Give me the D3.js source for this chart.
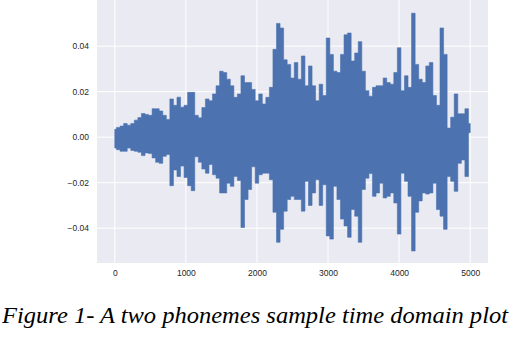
<!DOCTYPE html>
<html>
<head>
<meta charset="utf-8">
<script src="https://cdn.jsdelivr.net/npm/d3@7"></script>
<style>
  html, body { margin: 0; padding: 0; background: #ffffff; }
  svg { display: block; }
</style>
</head>
<body>
<svg id="chart" width="518" height="364"></svg>
<script>
// Sample index of each envelope reading (every 50 samples)
const sampleStep = 50;
// Positive peaks (upper envelope)
const upperPeaks = [
  0.0035, 0.0043, 0.0049, 0.0060, 0.0053, 0.0060, 0.0075, 0.0086, 0.0104, 0.0100,
  0.0096, 0.0125, 0.0125, 0.0115, 0.0096, 0.0078, 0.0168, 0.0140, 0.0176, 0.0132,
  0.0140, 0.0197, 0.0197, 0.0096, 0.0085, 0.0130, 0.0168, 0.0160, 0.0190, 0.0226,
  0.0290, 0.0284, 0.0255, 0.0226, 0.0175, 0.0190, 0.0270, 0.0240, 0.0240, 0.0210,
  0.0160, 0.0190, 0.0146, 0.0175, 0.0219, 0.0386, 0.0500, 0.0480, 0.0340, 0.0320,
  0.0260, 0.0328, 0.0255, 0.0357, 0.0226, 0.0313, 0.0226, 0.0160, 0.0233, 0.0183,
  0.0436, 0.0364, 0.0290, 0.0284, 0.0364, 0.0450, 0.0458, 0.0335, 0.0370, 0.0420,
  0.0290, 0.0204, 0.0180, 0.0219, 0.0226, 0.0226, 0.0260, 0.0240, 0.0233, 0.0284,
  0.0393, 0.0204, 0.0270, 0.0219, 0.0545, 0.0320, 0.0255, 0.0240, 0.0313, 0.0328,
  0.0183, 0.0140, 0.0480, 0.0364, 0.0040, 0.0088, 0.0190, 0.0103, 0.0103, 0.0125,
  0.0060
];
// Negative troughs (lower envelope)
const lowerPeaks = [
  -0.0048, -0.0055, -0.0062, -0.0062, -0.0048, -0.0058, -0.0062, -0.0066, -0.0081, -0.0069,
  -0.0072, -0.0091, -0.0110, -0.0115, -0.0084, -0.0076, -0.0213, -0.0144, -0.0173, -0.0127,
  -0.0177, -0.0213, -0.0235, -0.0086, -0.0110, -0.0140, -0.0158, -0.0120, -0.0165, -0.0180,
  -0.0245, -0.0245, -0.0202, -0.0216, -0.0173, -0.0190, -0.0397, -0.0274, -0.0230, -0.0130,
  -0.0202, -0.0165, -0.0158, -0.0158, -0.0187, -0.0330, -0.0462, -0.0405, -0.0325, -0.0274,
  -0.0260, -0.0274, -0.0274, -0.0325, -0.0194, -0.0300, -0.0245, -0.0187, -0.0300, -0.0209,
  -0.0434, -0.0448, -0.0216, -0.0274, -0.0360, -0.0390, -0.0440, -0.0318, -0.0347, -0.0462,
  -0.0230, -0.0180, -0.0160, -0.0260, -0.0245, -0.0202, -0.0267, -0.0260, -0.0245, -0.0289,
  -0.0426, -0.0158, -0.0194, -0.0260, -0.0500, -0.0330, -0.0280, -0.0245, -0.0250, -0.0245,
  -0.0202, -0.0318, -0.0347, -0.0405, -0.0173, -0.0194, -0.0238, -0.0115, -0.0100, -0.0173,
  0.0020
];
const xTicks = [0, 1000, 2000, 3000, 4000, 5000];
const yTicks = [-0.04, -0.02, 0.00, 0.02, 0.04];
const xDomain = [-250, 5250];
const yDomain = [-0.0553, 0.0603];
const caption = "Figure 1- A two phonemes sample time domain plot";

// min/max envelope per block of samples
const blocks = upperPeaks.map((u, i) => ({ s: i * sampleStep, hi: u, lo: lowerPeaks[i] }));

const svg = d3.select("#chart");
const plot = { left: 97, right: 488, top: 0, bottom: 263 };

const x = d3.scaleLinear().domain(xDomain).range([plot.left, plot.right]);
const y = d3.scaleLinear().domain(yDomain).range([plot.bottom, plot.top]);

// background
svg.append("rect")
  .attr("x", plot.left).attr("y", plot.top)
  .attr("width", plot.right - plot.left).attr("height", plot.bottom - plot.top)
  .attr("fill", "#EAEAF2");

// grid
const grid = svg.append("g");
grid.selectAll("line.xg").data(xTicks).join("line")
  .attr("x1", d => x(d)).attr("x2", d => x(d))
  .attr("y1", plot.top).attr("y2", plot.bottom)
  .attr("stroke", "#ffffff").attr("stroke-width", 1);
grid.selectAll("line.yg").data(yTicks).join("line")
  .attr("x1", plot.left).attr("x2", plot.right)
  .attr("y1", d => y(d)).attr("y2", d => y(d))
  .attr("stroke", "#ffffff").attr("stroke-width", 1);

// axes
const fmtY = d => d3.format(".2f")(d).replace("-", "\u2212");
const xAxis = d3.axisBottom(x).tickValues(xTicks).tickSize(0).tickPadding(7).tickFormat(d3.format("d"));
const yAxis = d3.axisLeft(y).tickValues(yTicks).tickSize(0).tickPadding(8).tickFormat(fmtY);

const gx = svg.append("g").attr("transform", `translate(0,${plot.bottom})`).call(xAxis);
const gy = svg.append("g").attr("transform", `translate(${plot.left},0)`).call(yAxis);
[gx, gy].forEach(g => {
  g.select(".domain").remove();
  g.selectAll("text")
    .attr("font-family", "'Liberation Sans', Arial, sans-serif")
    .attr("font-size", 8.5)
    .attr("fill", "#262626");
});

// waveform drawn as its min/max envelope
const area = d3.area()
  .curve(d3.curveStep)
  .x(d => x(d.s))
  .y0(d => y(d.lo))
  .y1(d => y(d.hi));
svg.append("path")
  .datum(blocks)
  .attr("d", area)
  .attr("fill", "#4C72B0")
  .attr("stroke", "#4C72B0")
  .attr("stroke-width", 0.6)
  .attr("stroke-linejoin", "miter");

// caption
svg.append("text")
  .attr("x", 2).attr("y", 323)
  .attr("font-family", "'Liberation Serif', 'Times New Roman', serif")
  .attr("font-style", "italic")
  .attr("font-size", 24)
  .attr("textLength", 506)
  .attr("lengthAdjust", "spacingAndGlyphs")
  .attr("fill", "#000000")
  .text(caption);
</script>
</body>
</html>
